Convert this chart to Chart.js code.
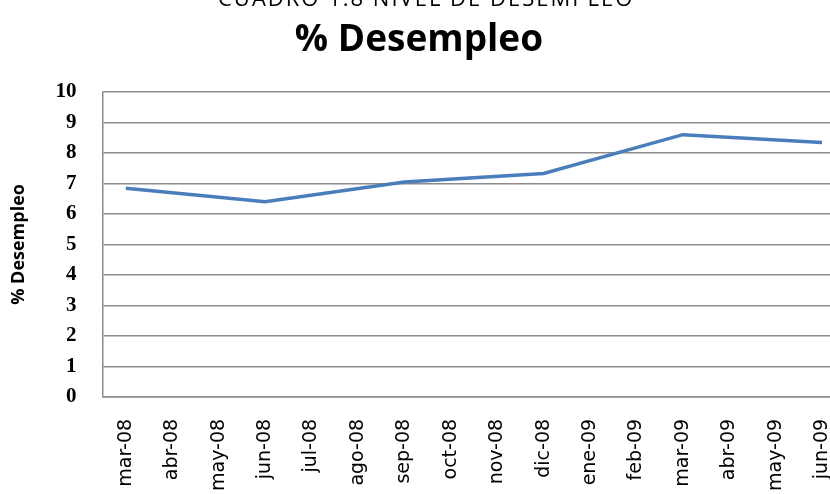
<!DOCTYPE html>
<html>
<head>
<meta charset="utf-8">
<script src="https://cdn.jsdelivr.net/npm/chart.js@4"></script>
<style>
  body { margin: 0; overflow: hidden; background: #fff; width: 830px; height: 494px; position: relative; }
  #top-text {
    position: absolute; left: 218px; top: -14px; width: 420px;
    font-family: "Open Sans", sans-serif; font-size: 22px; line-height: 22px;
    letter-spacing: 2px; color: #000; white-space: nowrap; z-index: 2;
  }
  #main-title {
    position: absolute; left: 0; top: 15px; width: 838px; text-align: center;
    font-family: "Open Sans", sans-serif; font-size: 37px; font-weight: bold;
    line-height: 44px; color: #000; z-index: 2;
  }
  #chart-box { position: absolute; left: 0; top: 0; width: 867px; height: 513px; }
</style>
</head>
<body>
<div id="top-text">CUADRO 1.8 NIVEL DE DESEMPLEO</div>
<div id="main-title">% Desempleo</div>
<div id="chart-box"><canvas id="desempleoChart" width="867" height="513"></canvas></div>
<script>
// Months on the x axis
const months = ["mar-08", "abr-08", "may-08", "jun-08", "jul-08", "ago-08", "sep-08", "oct-08",
  "nov-08", "dic-08", "ene-09", "feb-09", "mar-09", "abr-09", "may-09", "jun-09"];
// Quarterly unemployment readings (null = no reading, line spans the gap)
const desempleo = [6.84, null, null, 6.4, null, null, 7.05, null,
  null, 7.33, null, null, 8.6, null, null, 8.34];
const yTicks = [0, 1, 2, 3, 4, 5, 6, 7, 8, 9, 10];

function initializeChart() {
  const ctx = document.getElementById("desempleoChart").getContext("2d");
  new Chart(ctx, {
    type: "line",
    data: {
      labels: months,
      datasets: [
        {
          label: "% Desempleo",
          data: desempleo,
          borderColor: "#4A7EBB",
          borderWidth: 3.5,
          pointRadius: 0,
          spanGaps: true,
          fill: false,
          tension: 0,
        },
      ],
    },
    options: {
      responsive: false,
      animation: false,
      layout: { padding: { top: 92, right: 4, left: 0, bottom: 0 } },
      plugins: {
        legend: { display: false },
        tooltip: { enabled: false },
        title: { display: false },
      },
      scales: {
        x: {
          offset: true,
          grid: { display: false, drawTicks: false },
          border: { display: true, color: "#8c8c8c", width: 1.5 },
          ticks: {
            color: "#000",
            autoSkip: false,
            minRotation: 90,
            maxRotation: 90,
            padding: 22,
            font: { family: "DejaVu Sans", size: 19 },
          },
        },
        y: {
          min: 0,
          max: 10,
          afterBuildTicks: (axis) => {
            axis.ticks = yTicks.map((v) => ({ value: v }));
          },
          grid: { color: "#8c8c8c", lineWidth: 1.5, drawTicks: false },
          border: { display: true, color: "#8c8c8c", width: 1.5 },
          ticks: {
            color: "#000",
            padding: 26,
            font: { family: "Liberation Serif", size: 21, weight: "bold" },
          },
          title: {
            display: true,
            text: "% Desempleo",
            color: "#000",
            font: { family: "Open Sans", size: 18, weight: "bold" },
            padding: { top: 8, bottom: 0 },
          },
        },
      },
    },
  });
}

initializeChart();
</script>
</body>
</html>
